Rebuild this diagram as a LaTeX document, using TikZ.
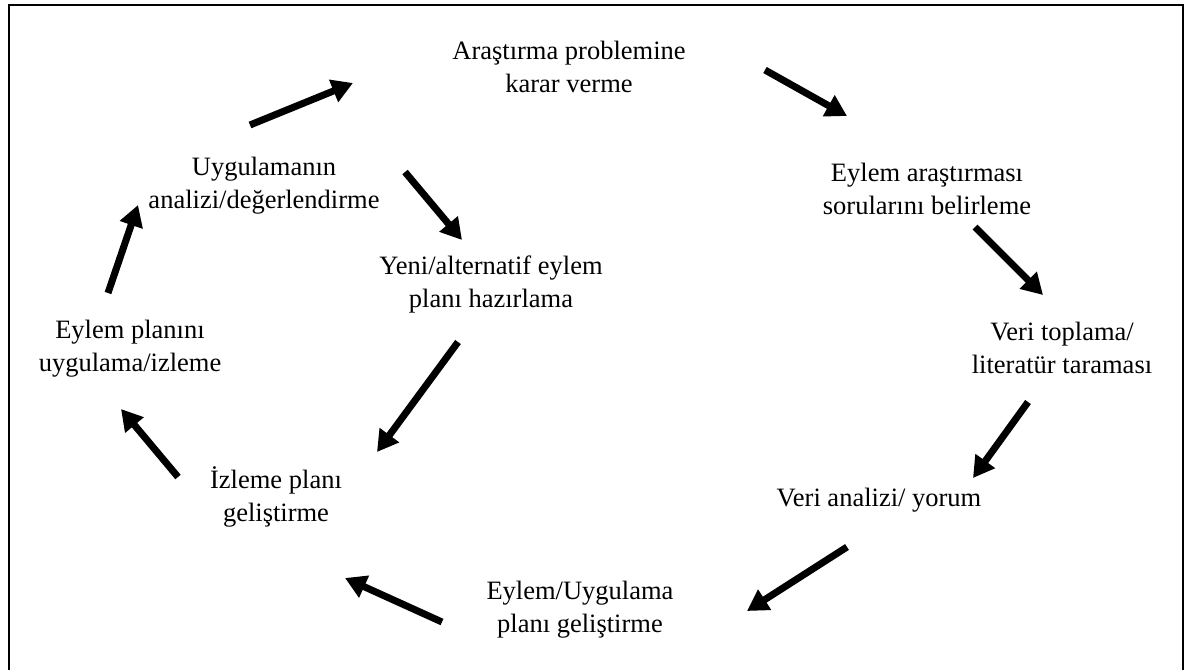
\documentclass[tikz,border=0pt]{standalone}
\usepackage{fontspec}
\setmainfont{Liberation Serif}
\usetikzlibrary{arrows.meta}

\begin{document}
\begin{tikzpicture}[x=1pt,y=-1pt,
  stage/.style={align=center,inner sep=0pt,
    font=\fontsize{26.5}{33}\selectfont},
  flow/.style={line width=7pt,
    -{Triangle[length=21pt,width=23pt]}}]
\useasboundingbox (0,0) rectangle (1192,670);

% open frame (no bottom edge)
\draw[line width=2.5pt] (9,670) -- (9,5) -- (1183,5) -- (1183,670);

% stages of the cycle
\node[stage] (problem)  at (569,67)  {Araştırma problemine\\karar verme};
\node[stage] (sorular)  at (927,189) {Eylem araştırması\\sorularını belirleme};
\node[stage] (veri)     at (1062,348){Veri toplama/\\literatür taraması};
\node[stage] (analiz)   at (879,500) {Veri analizi/ yorum};
\node[stage] (eylem)    at (580,610) {Eylem/Uygulama\\planı geliştirme};
\node[stage] (izlemepl) at (276,497) {İzleme planı\\geliştirme};
\node[stage] (uygula)   at (130,349) {Eylem planını\\uygulama/izleme};
\node[stage] (degerlen) at (264,186) {Uygulamanın\\analizi/değerlendirme};
\node[stage] (yeni)     at (491,284) {Yeni/alternatif eylem\\planı hazırlama};

% arrow end points
\coordinate (a1) at (250,125);  \coordinate (a2) at (353,83);
\coordinate (b1) at (765,70);   \coordinate (b2) at (847,116);
\coordinate (c1) at (975,227);  \coordinate (c2) at (1043,295);
\coordinate (d1) at (1028,402); \coordinate (d2) at (973,478);
\coordinate (e1) at (847,547);  \coordinate (e2) at (747,611);
\coordinate (f1) at (442,622);  \coordinate (f2) at (345,578);
\coordinate (g1) at (178,477);  \coordinate (g2) at (121,409);
\coordinate (h1) at (108,293);  \coordinate (h2) at (138,205);
\coordinate (i1) at (405,172);  \coordinate (i2) at (462,240);
\coordinate (j1) at (458,342);  \coordinate (j2) at (377,452);

\draw[flow] (a1) -- (a2);
\draw[flow] (b1) -- (b2);
\draw[flow] (c1) -- (c2);
\draw[flow] (d1) -- (d2);
\draw[flow] (e1) -- (e2);
\draw[flow] (f1) -- (f2);
\draw[flow] (g1) -- (g2);
\draw[flow] (h1) -- (h2);
\draw[flow] (i1) -- (i2);
\draw[flow] (j1) -- (j2);
\end{tikzpicture}
\end{document}
